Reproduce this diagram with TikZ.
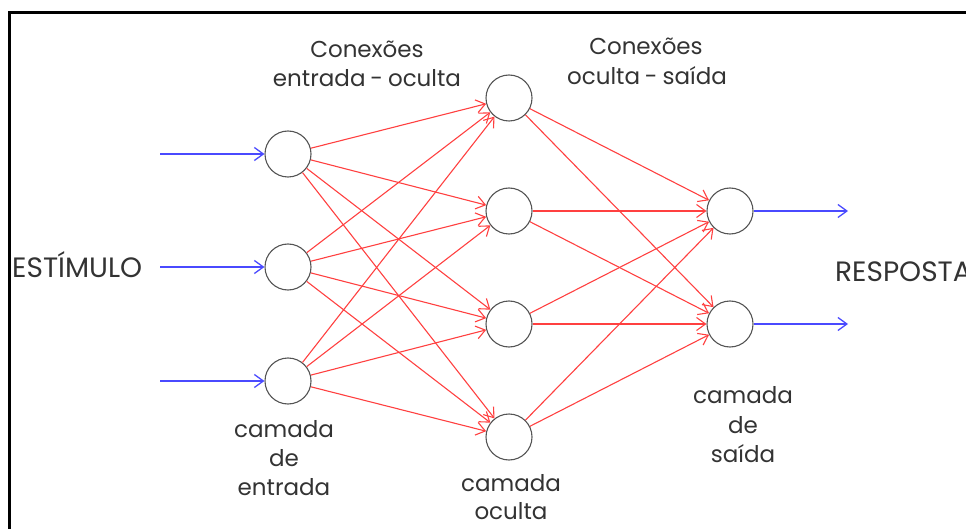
\documentclass[tikz,border=0pt]{standalone}
\usepackage{fontspec}
\setmainfont[WordSpace=0.8]{Poppins}
\usetikzlibrary{arrows.meta}
\definecolor{neured}{HTML}{FF4040}
\definecolor{neublue}{HTML}{4A4AFF}
\definecolor{neugray}{HTML}{555555}
\definecolor{txtgray}{HTML}{333333}
\tikzset{
  neuron/.style={circle, draw=neugray, line width=1.1pt, minimum size=46pt, inner sep=0pt, fill=white},
  redlink/.style={draw=neured, line width=1.1pt, -{Straight Barb[length=9pt,width=13pt,line width=1.1pt]}},
  bluelink/.style={draw=neublue, line width=1.3pt, -{Straight Barb[length=9pt,width=13pt,line width=1.3pt]}},
  lbl/.style={text=txtgray, font=\fontsize{23}{29}\selectfont, align=center, inner sep=0pt, anchor=base},
  biglbl/.style={text=txtgray, font=\fontsize{28}{32}\selectfont, inner sep=0pt, anchor=base west},
}
\begin{document}
\begin{tikzpicture}[x=1pt,y=-1pt]
\useasboundingbox (0,0) rectangle (966,529);
% frame
\draw[line width=3pt, black] (9,600) -- (9,13) -- (1100,13);
% neurons
\node[neuron] (i1) at (288,154) {};
\node[neuron] (i2) at (288,267) {};
\node[neuron] (i3) at (288,381) {};
\node[neuron] (h1) at (509,98) {};
\node[neuron] (h2) at (509,211) {};
\node[neuron] (h3) at (509,324) {};
\node[neuron] (h4) at (509,437) {};
\node[neuron] (o1) at (730,211) {};
\node[neuron] (o2) at (730,324) {};
% free ends
\coordinate (s1) at (160,154);
\coordinate (s2) at (160,267);
\coordinate (s3) at (160,381);
\coordinate (r1) at (848,211);
\coordinate (r2) at (848,324);
% connections
\foreach \i in {1,2,3}{
  \foreach \h in {1,2,3,4}{
    \draw[redlink] (i\i) -- (h\h);
  }
  \draw[bluelink] (s\i) -- (i\i);
}
\foreach \h in {1,2,3,4}{
  \foreach \o in {1,2}{
    \draw[redlink] (h\h) -- (o\o);
  }
}
\draw[bluelink] (o1) -- (r1);
\draw[bluelink] (o2) -- (r2);
% labels
\node[lbl] (t1) at (367,58) {Conexões};
\node[lbl] (t2) at (367,87) {entrada - oculta};
\node[lbl] (t3) at (646,55) {Conexões};
\node[lbl] (t4) at (647,85) {oculta - saída};
\node[lbl] (c1) at (284,437) {camada};
\node[lbl] (c2) at (284,466) {de};
\node[lbl] (c3) at (284,495) {entrada};
\node[lbl] (c4) at (511,491) {camada};
\node[lbl] (c5) at (511,519) {oculta};
\node[lbl] (c6) at (743,403) {camada};
\node[lbl] (c7) at (743,433) {de};
\node[lbl] (c8) at (743,462) {saída};
\node[biglbl] (est) at (12,277) {ESTÍMULO};
\node[biglbl] (resp) at (835,282) {RESPOSTA};
\end{tikzpicture}
\end{document}
